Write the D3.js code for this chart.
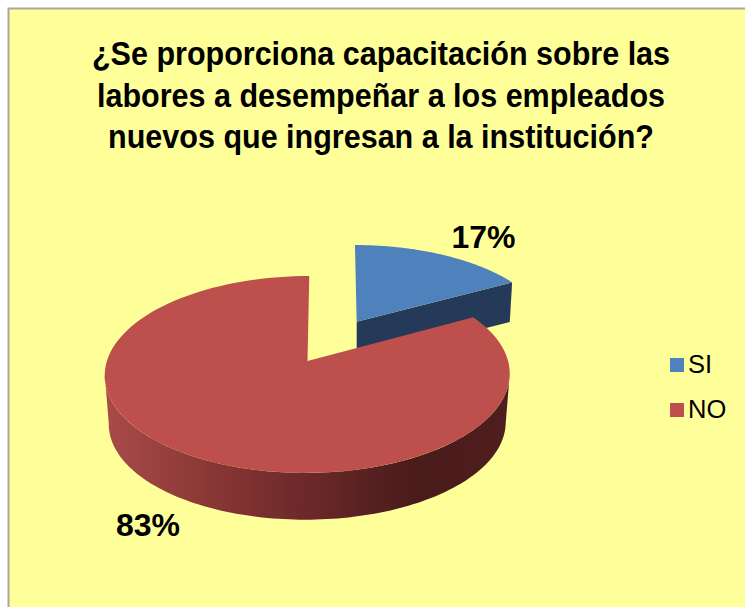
<!DOCTYPE html>
<html>
<head>
<meta charset="utf-8">
<script src="https://cdn.jsdelivr.net/npm/d3@7"></script>
<style>
body { margin: 0; background: #fff; }
svg { display: block; }
text { font-family: "Liberation Sans", Arial, sans-serif; fill: #000; }
</style>
</head>
<body>
<svg id="chart" width="745" height="607"></svg>
<script>
var categories = ['SI', 'NO'];
var values = [17, 83];
var labels = ['17%', '83%'];
var titleLines = [
    '¿Se proporciona capacitación sobre las',
    'labores a desempeñar a los empleados',
    'nuevos que ingresan a la institución?'
];

var width = 745;
var height = 607;
var svg = d3.select('#chart');

var color = d3.scaleOrdinal().domain(categories).range(['#4f81bd', '#bd4f4c']);

// each slice has its own perspective because the blue one is pulled out to the back
var views = {
    SI: { x0: 356.7, y0: 321.7, a: 87, b: 190, k: 0.135, shear: -2, drop: 39, shrink: 0.985 },
    NO: { x0: 307.5, y0: 361, a: 96.6, b: 200.6, k: 0.137, shear: 2, drop: 49, shrink: 0.98 }
};

function project(view, angle, r, lower) {
    var u = Math.sin(angle) * r;
    var v = Math.cos(angle) * r;
    var w = 1 + view.k * v;
    var s = lower ? view.shrink : 1;
    return [
        view.x0 + (view.b * u * s + view.shear * v) / w,
        view.y0 + (lower ? view.drop : 0) - view.a * v * s / w
    ];
}

function arcPoints(view, a0, a1, lower) {
    var pts = [];
    var n = 120;
    for (var i = 0; i <= n; i++) {
        pts.push(project(view, a0 + (a1 - a0) * i / n, 1, lower));
    }
    return pts;
}

var line = d3.line();

var pie = d3.pie().sort(null).value(function (d) { return d.value; });
var slices = pie(categories.map(function (c, i) { return { key: c, value: values[i] }; }));
var si = slices[0];
var no = slices[1];

// background and frame
svg.append('rect')
    .attr('x', 8.5)
    .attr('y', 8.5)
    .attr('width', width)
    .attr('height', height)
    .attr('fill', '#ffff99')
    .attr('stroke', '#a6a6a6')
    .attr('stroke-width', 2);

var defs = svg.append('defs');
var grad = defs.append('linearGradient')
    .attr('id', 'redSide')
    .attr('gradientUnits', 'userSpaceOnUse')
    .attr('x1', 106).attr('x2', 510).attr('y1', 0).attr('y2', 0);
grad.append('stop').attr('offset', '0%').attr('stop-color', '#a84b49');
grad.append('stop').attr('offset', '25%').attr('stop-color', '#8a3836');
grad.append('stop').attr('offset', '50%').attr('stop-color', '#6c2829');
grad.append('stop').attr('offset', '76%').attr('stop-color', '#4a1b1b');
grad.append('stop').attr('offset', '100%').attr('stop-color', '#4f1e1e');

// blue slice: cut face first, then the top
var siView = views.SI;
var siEnd = project(siView, si.endAngle, 1, false);
var siEndLow = project(siView, si.endAngle, 1, true);
var siCentre = project(siView, 0, 0, false);
var siCentreLow = project(siView, 0, 0, true);
svg.append('path')
    .attr('d', line([siCentre, siEnd, siEndLow, siCentreLow]) + 'Z')
    .attr('fill', '#253a58');
svg.append('path')
    .attr('d', line([siCentre].concat(arcPoints(siView, si.startAngle, si.endAngle, false))) + 'Z')
    .attr('fill', color('SI'));

// red slice: outer wall between the widest points of the ellipse, then the top
var noView = views.NO;
var wallStart = Math.PI / 2 + Math.asin(noView.k);
var wallEnd = Math.PI * 1.5 - Math.asin(noView.k);
var wall = arcPoints(noView, wallStart, wallEnd, false)
    .concat(arcPoints(noView, wallEnd, wallStart, true));
svg.append('path')
    .attr('d', line(wall) + 'Z')
    .attr('fill', 'url(#redSide)');
svg.append('path')
    .attr('d', line([project(noView, 0, 0, false)].concat(arcPoints(noView, no.startAngle, no.endAngle, false))) + 'Z')
    .attr('fill', color('NO'));

// title, squeezed sideways like the original
svg.append('g')
    .attr('transform', 'translate(381,0) scale(0.925,1)')
    .selectAll('text')
    .data(titleLines)
    .enter()
    .append('text')
    .attr('x', 0)
    .attr('y', function (d, i) { return 65 + i * 41.7; })
    .attr('text-anchor', 'middle')
    .style('font-size', '33px')
    .style('font-weight', 'bold')
    .text(function (d) { return d; });

// data labels
var labelPos = [[483.5, 248], [148, 536]];
svg.append('g')
    .selectAll('text')
    .data(labels)
    .enter()
    .append('text')
    .attr('x', function (d, i) { return labelPos[i][0]; })
    .attr('y', function (d, i) { return labelPos[i][1]; })
    .attr('text-anchor', 'middle')
    .style('font-size', '32px')
    .style('font-weight', 'bold')
    .text(function (d) { return d; });

// legend
var legend = svg.append('g')
    .selectAll('g')
    .data(categories)
    .enter()
    .append('g')
    .attr('transform', function (d, i) { return 'translate(670,' + (358 + i * 45) + ')'; });
legend.append('rect')
    .attr('width', 14)
    .attr('height', 14)
    .attr('fill', function (d) { return color(d); });
legend.append('text')
    .attr('x', 18)
    .attr('y', 15)
    .style('font-size', '25.5px')
    .text(function (d) { return d; });
</script>
</body>
</html>
